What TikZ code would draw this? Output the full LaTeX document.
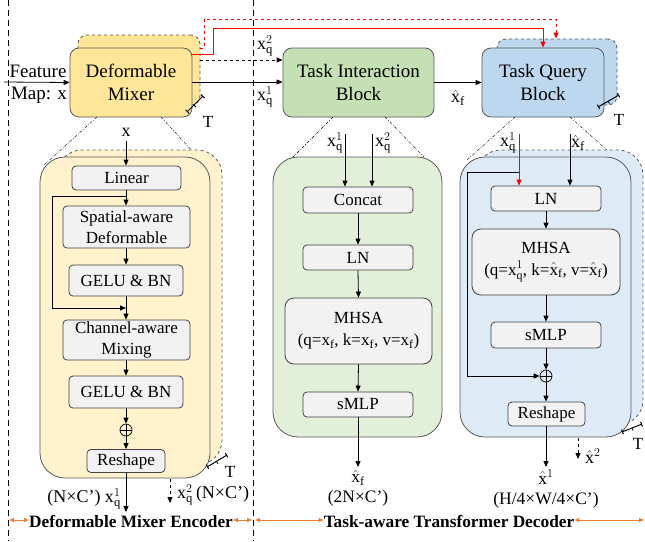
\documentclass[tikz,border=0pt]{standalone}
\usepackage{fontspec}
\setmainfont{Liberation Serif}
\usetikzlibrary{arrows.meta}
\definecolor{yelF}{HTML}{FFE699}
\definecolor{yelL}{HTML}{FFF2CC}
\definecolor{grnF}{HTML}{C5E0B4}
\definecolor{grnL}{HTML}{E2F0D9}
\definecolor{bluF}{HTML}{BDD7EE}
\definecolor{bluL}{HTML}{DEEBF7}
\definecolor{boxG}{HTML}{F2F2F2}
\definecolor{edgeG}{HTML}{595959}
\definecolor{orng}{HTML}{ED7D31}
\newcommand{\myxq}[1]{\ensuremath{\mathrm{x}_{\mathrm{q}}^{#1}}}
\newcommand{\myxf}{\ensuremath{\mathrm{x}_{\mathrm{f}}}}
\newcommand{\myhxf}{\ensuremath{\hat{\mathrm{x}}_{\mathrm{f}}}}
\begin{document}
\begin{tikzpicture}[x=1pt,y=-1pt,
  blk/.style={draw=edgeG, line width=0.8pt, rounded corners=9pt, align=center, inner sep=0pt,
    font=\fontsize{19}{23}\selectfont},
  backblk/.style={draw=edgeG, line width=0.8pt, rounded corners=9pt, dashed, inner sep=0pt},
  panel/.style={draw=edgeG, line width=0.8pt, rounded corners=25pt},
  backpanel/.style={draw=edgeG, line width=0.8pt, rounded corners=25pt, dashed},
  ibox/.style={draw=black!75, fill=boxG, line width=0.8pt, rounded corners=4pt, align=center,
    inner sep=0pt, font=\fontsize{17}{21}\selectfont},
  lbl/.style={inner sep=0pt, align=center, font=\fontsize{18}{21}\selectfont},
  arr/.style={line width=0.8pt, -{Triangle[length=6pt,width=5pt]}},
  zoomln/.style={line width=0.4pt, dash pattern=on 3pt off 1.5pt on 0.8pt off 1.5pt},
  tmark/.style={line width=1pt, {Bar[width=5pt]}-{Bar[width=5pt]}},
  oarr/.style={orng, line width=0.9pt, {Triangle[length=5pt,width=4pt]}-{Triangle[length=5pt,width=4pt]}},
  plus/.style={circle, draw, line width=0.7pt, minimum size=12pt, inner sep=0pt,
    path picture={\draw[line width=0.7pt] (path picture bounding box.north)--(path picture bounding box.south)
      (path picture bounding box.west)--(path picture bounding box.east);}}
]
\useasboundingbox (0,0) rectangle (645,541);

% separators
\draw[line width=1pt, dash pattern=on 6pt off 4pt] (8,0) -- (8,541);
\draw[line width=1pt, dash pattern=on 6pt off 4pt] (253,0) -- (253,541);

% ===== top row =====
\node[backblk, fill=yelF, minimum width=122pt, minimum height=70pt] (dmback) at (139,70) {};
\node[blk, fill=yelF, minimum width=122pt, minimum height=69pt] (dm) at (131,82.5) {Deformable\\Mixer};
\node[blk, fill=grnF, minimum width=151pt, minimum height=69pt] (tib) at (358.5,82.5) {Task Interaction\\Block};
\node[backblk, fill=bluF, minimum width=120pt, minimum height=66pt] (tqback) at (557,72) {};
\node[blk, fill=bluF, minimum width=122pt, minimum height=69pt] (tqb) at (543,82.5) {Task Query\\Block};

\coordinate (fm) at (4,82);
\draw[arr] (fm) -- (dm.west);
\node[lbl, font=\fontsize{19}{21}\selectfont] (feat) at (38,71) {Feature};
\node[lbl, font=\fontsize{19}{21}\selectfont] (mapx) at (39,95) {Map: x};

\draw[arr] (dm.east |- 0,82) -- (tib.west |- 0,82);
\node[lbl] (lq1) at (265,97) {\myxq{1}};
\draw[arr, dashed] (dmback.east |- 0,60) -- (tib.west |- 0,60);
\node[lbl] (lq2) at (265,46) {\myxq{2}};
\draw[arr] (tib.east) -- (tqb.west);
\node[lbl] (lxf) at (458,98) {\myhxf};

% red connectors
\coordinate (r1) at (192,54);
\coordinate (r2) at (200,48);
\draw[arr, red] (r1) -- (213,54) -- (213,28) -- (543,28) -- (tqb.north);
\draw[arr, red, dashed] (r2) -- (204,48) -- (204,19) -- (556,19) -- (tqback.north -| 556,0);

% T marks
\draw[tmark] (187,112) -- (203,96);
\draw[line width=0.8pt] (194,105) -- (196,107);
\node[lbl, font=\fontsize{17}{20}\selectfont] (t1) at (208,122) {T};
\draw[tmark] (598,107) -- (619,95);
\draw[line width=0.8pt] (608,101) -- (609.5,103.5);
\node[lbl, font=\fontsize{17}{20}\selectfont] (t2) at (619,120) {T};

% ===== Deformable Mixer encoder panel =====
\draw[zoomln] (97,117) -- (44,165);
\draw[zoomln] (161,117) -- (206,166);
\draw[backpanel, fill=yelL] (57,150) rectangle (222,465);
\draw[panel, fill=yelL] (40,157) rectangle (210,478);

\node[lbl] (xin) at (126,132) {x};
\coordinate (xin1) at (126,141);
\node[ibox, minimum width=109pt, minimum height=24pt] (lin) at (126.5,178) {Linear};
\node[ibox, minimum width=127pt, minimum height=42pt] (spat) at (126.5,227) {Spatial-aware\\Deformable};
\node[ibox, minimum width=114pt, minimum height=31pt] (gelu1) at (126,280.5) {GELU \& BN};
\node[ibox, minimum width=127pt, minimum height=40pt] (chan) at (126.5,340) {Channel-aware\\Mixing};
\node[ibox, minimum width=114pt, minimum height=32pt] (gelu2) at (126,392) {GELU \& BN};
\node[plus] (p1) at (126,430) {};
\node[ibox, minimum width=78pt, minimum height=23pt] (resh1) at (126,461) {Reshape};

\draw[arr] (xin1) -- (xin1 |- lin.north);
\draw[arr] (lin.south -| 126,0) -- (spat.north -| 126,0);
\draw[arr] (spat.south -| 126,0) -- (gelu1.north -| 126,0);
\draw[arr] (gelu1.south -| 126,0) -- (chan.north -| 126,0);
\draw[arr] (chan.south -| 126,0) -- (gelu2.north -| 126,0);
\draw[arr] (gelu2.south) -- (p1.north);
\draw[arr] (p1.south) -- (resh1.north);
\coordinate (s1) at (126,196);
\coordinate (s2) at (126,308);
\draw[arr] (s1) -- (52,196) -- (52,308) -- (s2);

\coordinate (o1) at (126,512);
\draw[arr] (resh1.south) -- (o1);
\node[lbl, anchor=east] (o1l) at (121,499) {(N×C’) \myxq{1}};
\coordinate (o2a) at (170,479);
\coordinate (o2b) at (170,503);
\draw[arr, dashed] (o2a) -- (o2b);
\node[lbl, anchor=west] (o2l) at (177,495) {\myxq{2}\,(N×C’)};
\draw[tmark] (207,467) -- (227,455);
\draw[line width=0.8pt] (216.5,461.5) -- (218,464);
\node[lbl, font=\fontsize{17}{20}\selectfont] (t3) at (230,472) {T};

% ===== Task interaction panel =====
\draw[zoomln] (333,117) -- (293,157);
\draw[zoomln] (385,117) -- (424,157);
\draw[panel, fill=grnL] (273,157) rectangle (442,437);
\node[ibox, minimum width=110pt, minimum height=26pt] (concat) at (358,200) {Concat};
\node[ibox, minimum width=110pt, minimum height=25pt] (ln1) at (358,257.5) {LN};
\node[ibox, minimum width=147pt, minimum height=66pt, rounded corners=9pt] (mhsa1) at (358.5,331)
  {MHSA\\[1pt]{\fontsize{17}{19}\selectfont (q=\myxf, k=\myxf, v=\myxf)}};
\node[ibox, minimum width=110pt, minimum height=25pt] (smlp1) at (358,404.5) {sMLP};
\node[lbl] (iq1) at (335,143) {\myxq{1}};
\node[lbl] (iq2) at (383,143) {\myxq{2}};
\coordinate (a1) at (345,134);
\coordinate (a2) at (372,134);
\draw[arr] (a1) -- (a1 |- concat.north);
\draw[arr] (a2) -- (a2 |- concat.north);
\draw[arr] (concat.south) -- (ln1.north);
\draw[arr] (ln1.south) -- (mhsa1.north);
\draw[arr] (mhsa1.south) -- (smlp1.north);
\coordinate (o3) at (358,467);
\draw[arr] (smlp1.south) -- (o3);
\node[lbl, anchor=north, font=\fontsize{17.5}{20}\selectfont] (o3a) at (358,470) {\myhxf\\(2N×C’)};

% ===== Task query panel =====
\draw[zoomln] (515,117) -- (467,160);
\draw[zoomln] (570,117) -- (617,159);
\draw[backpanel, fill=bluL] (476,150) rectangle (643,425);
\draw[panel, fill=bluL] (460,157) rectangle (631,437);
\node[ibox, minimum width=110pt, minimum height=25pt] (ln2) at (546,198.5) {LN};
\node[ibox, minimum width=148pt, minimum height=66pt, rounded corners=9pt] (mhsa2) at (546,262)
  {MHSA\\[1pt]{\fontsize{17}{19}\selectfont (q=\myxq{1}, k=\myhxf, v=\myhxf)}};
\node[ibox, minimum width=110pt, minimum height=26pt] (smlp2) at (546,335) {sMLP};
\node[plus] (p2) at (546,376) {};
\node[ibox, minimum width=77pt, minimum height=24pt] (resh2) at (546.5,414) {Reshape};
\node[lbl] (jq1) at (508,143) {\myxq{1}};
\node[lbl] (jxf) at (578,143) {\myhxf};
\coordinate (b1) at (519,134);
\coordinate (b2) at (570,134);
\draw[arr, red] (b1) -- (b1 |- ln2.north);
\draw[arr] (b2) -- (b2 |- ln2.north);
\draw[arr] (ln2.south) -- (mhsa2.north);
\draw[arr] (mhsa2.south) -- (smlp2.north);
\draw[arr] (smlp2.south) -- (p2.north);
\draw[arr] (p2.south) -- (resh2.north -| p2.south);
\coordinate (s3) at (519,172);
\draw[arr] (s3) -- (467,172) -- (467,376) -- (p2.west);
\coordinate (o4) at (546,467);
\draw[arr] (resh2.south -| p2.south) -- (o4);
\node[lbl, anchor=north, font=\fontsize{17.5}{20}\selectfont] (o4a) at (546,470) {$\hat{\mathrm{x}}^{1}$\\(H/4×W/4×C’)};
\coordinate (o5a) at (578,438);
\coordinate (o5b) at (578,459);
\draw[arr, dashed] (o5a) -- (o5b);
\node[lbl, anchor=west] (o5l) at (585,456) {$\hat{\mathrm{x}}^{2}$};
\draw[tmark] (622,432) -- (642,424);
\draw[line width=0.8pt] (632,428) -- (633,430.5);
\node[lbl, font=\fontsize{17}{20}\selectfont] (t4) at (638,444) {T};

% ===== bottom captions =====
\node[inner sep=0pt, font=\fontsize{17.3}{20}\selectfont\bfseries] (enc) at (131,521) {Deformable Mixer Encoder};
\node[inner sep=0pt, font=\fontsize{17.3}{20}\selectfont\bfseries] (dec) at (449,521) {Task-aware Transformer Decoder};
\coordinate (e0) at (9,520);
\coordinate (e3) at (252,520);
\coordinate (e4) at (255,520);
\coordinate (e7) at (644,520);
\draw[oarr] (e0) -- (enc.west |- e0);
\draw[oarr] (enc.east |- e0) -- (e3);
\draw[oarr] (e4) -- (dec.west |- e4);
\draw[oarr] (dec.east |- e4) -- (e7);
\end{tikzpicture}
\end{document}
